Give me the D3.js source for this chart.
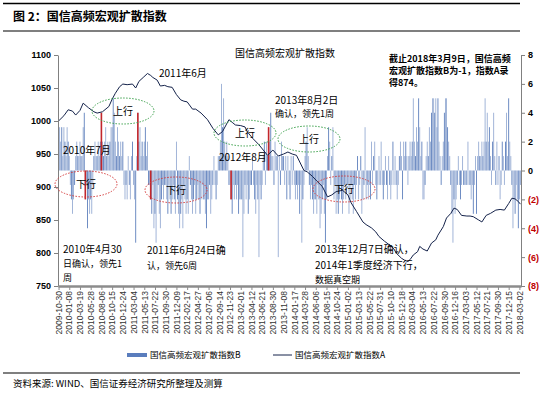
<!DOCTYPE html>
<html>
<head>
<meta charset="utf-8">
<script src="https://cdn.jsdelivr.net/npm/d3@7"></script>
<style>
  body { margin: 0; background: #fff; }
  svg { display: block; font-family: "Liberation Sans", Arial, "Noto Sans CJK SC", sans-serif; }
  .cn { font-family: "Noto Sans CJK SC", "Liberation Sans", sans-serif; }
</style>
</head>
<body>
<div id="chart"></div>
<script>
// x axis category labels, one every 10 weeks
const xLabels = ["2009-10-30","2010-01-08","2010-03-19","2010-05-28","2010-08-06","2010-10-15","2010-12-24",
  "2011-03-04","2011-05-13","2011-07-22","2011-09-30","2011-12-09","2012-02-17","2012-04-27","2012-07-06",
  "2012-09-14","2012-11-23","2013-02-01","2013-04-12","2013-06-21","2013-08-30","2013-11-08","2014-01-17",
  "2014-03-28","2014-06-06","2014-08-15","2014-10-24","2015-01-02","2015-03-13","2015-05-22","2015-07-31",
  "2015-10-10","2015-12-18","2016-03-04","2016-05-13","2016-07-22","2016-09-30","2016-12-16","2017-03-03",
  "2017-05-12","2017-07-21","2017-09-30","2017-12-15","2018-03-02"];

const leftTicks = [750, 800, 850, 900, 950, 1000, 1050, 1100];
const rightTicks = [-8, -6, -4, -2, 0, 2, 4, 6, 8];

// index B, weekly (right axis)
const bValues = [
  4,3,2,3,1,3,2,1,3,2,
  1,-1,-2,-3,-2,-1,1,2,1,1,
  2,1,1,3,4,-2,-1,-4,-2,-3,
  -2,-3,-1,1,2,1,1,2,1,2,
  4,2,1,2,3,1,2,1,2,3,
  3,5,4,2,1,3,2,1,2,1,
  2,-1,-2,-1,-2,1,-1,-2,1,2,
  -1,-2,-5,1,4,2,3,1,2,1,
  2,3,1,2,-1,-1,-2,-3,-1,-4,
  -3,-5,-2,-1,-3,-4,-2,-1,-2,-1,
  -1,-2,-3,-1,-2,-3,-2,-1,-2,-3,
  2,-2,-3,-4,-3,-2,-4,-1,-2,-3,
  -2,-3,1,-1,-2,-3,-2,-1,-3,-2,
  -1,-2,-3,-2,-1,-2,-2,-3,-4,-2,
  -2,-1,-3,-2,-1,1,-1,-2,-1,1,
  1,2,6,3,5,2,1,2,1,-1,
  -1,-2,-3,-1,-2,-1,-2,-1,-3,-2,
  -2,-2,-6,-3,-1,-2,-1,-3,-2,-1,
  -1,1,-1,-2,-3,-1,-2,-6,-1,-2,
  -1,1,2,-1,2,1,3,2,4,1,
  1,-1,2,1,1,-6,1,-1,2,1,
  1,-1,1,-2,1,-1,-2,1,-1,1,
  -1,-2,-1,-2,-1,-3,-1,-5,-2,-1,
  1,2,3,1,-1,-2,-1,-2,-3,-2,
  -2,-3,-1,-2,-4,-3,-2,-1,-3,-5,
  -2,1,3,2,-1,1,3,-2,-1,-3,
  -2,-3,-2,-1,-2,-3,-2,-1,-2,-1,
  -1,-3,-2,-1,-2,-3,-1,-2,-1,1,
  -2,-1,1,-3,-2,-1,3,-2,-1,-2,
  -1,-2,2,-1,1,2,-1,-2,-1,1,
  -1,2,-1,-2,-1,1,-1,-2,1,-1,
  -2,-1,2,-1,1,-1,-2,-1,1,2,
  1,-2,2,1,2,1,-1,1,2,1,
  2,5,2,1,3,2,5,3,1,2,
  -2,-2,-1,1,2,1,3,2,4,5,
  5,4,5,3,5,2,1,-1,1,2,
  4,5,5,3,2,1,-1,-3,-5,-2,
  -3,-2,-1,1,-1,-2,-1,1,-1,-1,
  -1,-1,2,-1,-1,-2,-1,-3,-1,1,
  -3,1,2,1,1,2,1,2,5,2,
  4,2,3,1,-1,2,4,1,-1,2,
  -1,1,-2,-1,2,1,-1,2,4,1,
  5,2,1,-1,-4,-2,-3,-1,-2,-4,
  -2,-1
];

// weeks where B confirmed a turn (drawn red)
const redWeeks = [25, 40, 74, 86, 161, 196];

// index A (left axis): [week, value]
const aPoints = [
  [0,1000],[5,1008],[9,1017],[13,1015],[16,1009],[20,1016],[23,1027],[28,1020],[33,1014],[36,1012],
  [41,1014],[47,1022],[50,1033],[53,1042],[57,1052],[60,1056],[64,1055],[69,1056],[72,1050],[75,1060],
  [79,1066],[83,1072],[86,1069],[88,1066],[92,1062],[95,1053],[99,1054],[102,1052],[106,1051],[110,1040],
  [114,1032],[117,1030],[120,1029],[125,1018],[128,1018],[133,1012],[139,1002],[144,989],[149,979],[153,984],
  [159,1002],[162,998],[165,994],[170,993],[174,991],[176,984],[181,974],[187,964],[195,948],[200,956],
  [205,947],[210,950],[214,953],[218,950],[222,948],[229,925],[232,923],[237,916],[241,909],[246,901],
  [251,885],[255,888],[259,893],[265,895],[270,888],[273,876],[278,863],[284,847],[287,843],[292,838],
  [296,832],[299,825],[304,818],[309,812],[313,806],[315,800],[320,792],[323,789],[326,787],[328,790],
  [331,797],[335,802],[337,810],[340,806],[344,803],[348,815],[352,820],[354,827],[359,840],[362,853],
  [366,860],[369,868],[372,866],[376,857],[381,856],[384,856],[387,855],[392,850],[395,847],[399,857],
  [403,860],[408,865],[412,866],[416,865],[420,875],[423,883],[426,882],[429,878],[431,874]
];

const width = 555, height = 393;
const plot = {left: 58, right: 521, top: 55, bottom: 286};

const svg = d3.select("#chart").append("svg")
  .attr("width", width)
  .attr("height", height);

const x = d3.scaleLinear().domain([-0.5, bValues.length - 0.5]).range([plot.left, plot.right]);
const yA = d3.scaleLinear().domain([750, 1100]).range([plot.bottom, plot.top]);
const yB = d3.scaleLinear().domain([-8, 8]).range([plot.bottom, plot.top]);

// header and footer rules
svg.append("line").attr("x1", 3).attr("x2", 520).attr("y1", 3.5).attr("y2", 3.5)
  .attr("stroke", "#000").attr("stroke-width", 1.5);
svg.append("line").attr("x1", 3).attr("x2", 520).attr("y1", 31).attr("y2", 31)
  .attr("stroke", "#000").attr("stroke-width", 1.2);
svg.append("text").attr("class", "cn").attr("x", 13).attr("y", 21)
  .attr("font-size", 12).attr("font-weight", "bold").text("图 2：国信高频宏观扩散指数");

svg.append("line").attr("x1", 3).attr("x2", 520).attr("y1", 373).attr("y2", 373)
  .attr("stroke", "#000").attr("stroke-width", 1.2);
svg.append("text").attr("class", "cn").attr("x", 13).attr("y", 387)
  .attr("font-size", 9.5).text("资料来源: WIND、国信证券经济研究所整理及测算");

// bars
const barW = x(1) - x(0);
svg.append("g").selectAll("rect")
  .data(bValues)
  .join("rect")
  .attr("x", (d, i) => x(i) - barW * 0.42)
  .attr("width", barW * 0.84)
  .attr("y", d => Math.min(yB(0), yB(d)))
  .attr("height", d => Math.abs(yB(d) - yB(0)))
  .attr("fill", (d, i) => i % 3 === 0 ? "#5f80bd" : "#98add4");

svg.append("g").selectAll("rect")
  .data(redWeeks)
  .join("rect")
  .attr("x", d => x(d) - 0.8)
  .attr("width", 1.6)
  .attr("y", d => Math.min(yB(0), yB(bValues[d])))
  .attr("height", d => Math.abs(yB(bValues[d]) - yB(0)))
  .attr("fill", "#c3262b");

// line A
svg.append("path")
  .datum(aPoints)
  .attr("fill", "none")
  .attr("stroke", "#14224a")
  .attr("stroke-width", 1)
  .attr("d", d3.line().x(d => x(d[0])).y(d => yA(d[1])));

// left axis
const leftAxis = svg.append("g")
  .attr("transform", `translate(${plot.left},0)`)
  .call(d3.axisLeft(yA).tickValues(leftTicks).tickSize(4).tickSizeOuter(0).tickFormat(d3.format("d")));
leftAxis.select(".domain").attr("stroke", "#808080");
leftAxis.selectAll(".tick line").attr("stroke", "#808080");
leftAxis.selectAll("text").attr("font-size", 9).attr("font-weight", "bold").attr("fill", "#000");

// right axis
const rightAxis = svg.append("g")
  .attr("transform", `translate(${plot.right},0)`)
  .call(d3.axisRight(yB).tickValues(rightTicks).tickSize(4).tickSizeOuter(0)
    .tickFormat(d => d < 0 ? `(${-d})` : d));
rightAxis.select(".domain").attr("stroke", "#808080");
rightAxis.selectAll(".tick line").attr("stroke", "#808080");
rightAxis.selectAll("text").attr("font-size", 9).attr("font-weight", "bold")
  .attr("fill", d => d < 0 ? "#c00000" : "#000");

// bottom category axis
const tickWeeks = xLabels.map((d, i) => i * 10);
const bottomAxis = svg.append("g")
  .attr("transform", `translate(0,${plot.bottom})`)
  .call(d3.axisBottom(x).tickValues(tickWeeks).tickSize(4).tickSizeOuter(0)
    .tickFormat((d, i) => xLabels[i]));
bottomAxis.select(".domain").attr("stroke", "#8c8c8c").attr("stroke-width", 2.5);
bottomAxis.selectAll(".tick line").attr("stroke", "#8c8c8c");
bottomAxis.selectAll("text")
  .attr("font-size", 8.5)
  .attr("fill", "#333")
  .attr("transform", "rotate(-90)")
  .attr("text-anchor", "end")
  .attr("dy", "0.32em")
  .attr("x", -5)
  .attr("y", 0);

// annotation ellipses
const ellipses = [
  {cx: 123, cy: 111, c: "#3aa04a", t: "上行"},
  {cx: 245, cy: 133, c: "#3aa04a", t: "上行"},
  {cx: 309, cy: 139, c: "#3aa04a", t: "上行"},
  {cx: 86, cy: 184, c: "#d63b3b", t: "下行"},
  {cx: 176, cy: 190, c: "#d63b3b", t: "下行"},
  {cx: 344, cy: 189, c: "#d63b3b", t: "下行"}
];
const eg = svg.append("g");
eg.selectAll("ellipse").data(ellipses).join("ellipse")
  .attr("cx", d => d.cx).attr("cy", d => d.cy).attr("rx", 31).attr("ry", 13)
  .attr("fill", "none").attr("stroke", d => d.c).attr("stroke-width", 1)
  .attr("stroke-dasharray", "1.5,1.5");
eg.selectAll("text").data(ellipses).join("text")
  .attr("class", "cn")
  .attr("x", d => d.cx).attr("y", d => d.cy + 4)
  .attr("text-anchor", "middle").attr("font-size", 10).text(d => d.t);

// text notes
const notes = [
  {x: 285, y: 57, t: "国信高频宏观扩散指数", a: "middle", s: 10},
  {x: 159, y: 77, t: "2011年6月", s: 10},
  {x: 63, y: 154, t: "2010年7月", s: 10},
  {x: 219, y: 161, t: "2012年8月", s: 10},
  {x: 275, y: 104, t: "2013年8月2日", s: 10},
  {x: 275, y: 117, t: "确认，领先1周", s: 9},
  {x: 63, y: 253, t: "2010年4月30", s: 10},
  {x: 63, y: 267, t: "日确认，领先1", s: 9},
  {x: 63, y: 281, t: "周", s: 9},
  {x: 147, y: 254, t: "2011年6月24日确", s: 10},
  {x: 147, y: 269, t: "认，领先6周", s: 9},
  {x: 315, y: 253, t: "2013年12月7日确认，", s: 10},
  {x: 315, y: 269, t: "2014年1季度经济下行，", s: 10},
  {x: 315, y: 283, t: "数据真空期", s: 9}
];
svg.append("g").selectAll("text").data(notes).join("text")
  .attr("class", "cn")
  .attr("x", d => d.x).attr("y", d => d.y)
  .attr("text-anchor", d => d.a || "start")
  .attr("font-size", d => d.s)
  .text(d => d.t);

const boxNote = ["截止2018年3月9日，国信高频", "宏观扩散指数B为-1，指数A录", "得874。"];
svg.append("g").selectAll("text").data(boxNote).join("text")
  .attr("class", "cn")
  .attr("x", 389).attr("y", (d, i) => 62 + i * 12)
  .attr("font-size", 9).attr("font-weight", "bold")
  .text(d => d);

// legend
const lg = svg.append("g").attr("class", "cn").attr("font-size", 8.5);
lg.append("rect").attr("x", 127).attr("y", 353).attr("width", 20).attr("height", 4).attr("fill", "#5a7dbd");
lg.append("text").attr("x", 150).attr("y", 358).text("国信高频宏观扩散指数B");
lg.append("line").attr("x1", 273).attr("x2", 292).attr("y1", 355).attr("y2", 355)
  .attr("stroke", "#14224a").attr("stroke-width", 1);
lg.append("text").attr("x", 295).attr("y", 358).text("国信高频宏观扩散指数A");
</script>
</body>
</html>
